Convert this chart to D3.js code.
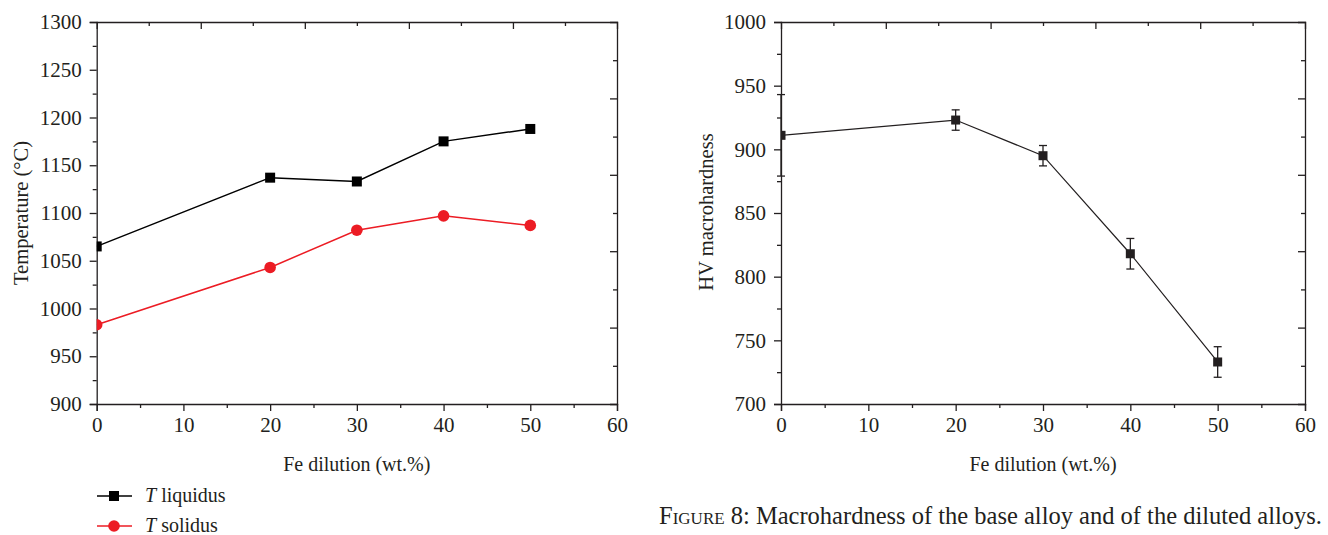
<!DOCTYPE html>
<html>
<head>
<meta charset="utf-8">
<script src="https://cdn.jsdelivr.net/npm/d3@7"></script>
<style>
  body { margin: 0; background: #fff; }
  text { font-family: "Liberation Serif", "Times New Roman", serif; fill: #231f20; }
</style>
</head>
<body>
<svg id="fig" width="1328" height="535"></svg>
<script>
// data
const dilution = [0, 20, 30, 40, 50];
const tLiquidus = [1065, 1137, 1133, 1175, 1188];
const tSolidus = [983, 1043, 1082, 1097, 1087];
const hardness = [911, 923, 895, 818, 733];
const hardnessErr = [32, 8, 8, 12, 12];

const xTicks = [0, 10, 20, 30, 40, 50, 60];
const tempTicks = [900, 950, 1000, 1050, 1100, 1150, 1200, 1250, 1300];
const hvTicks = [700, 750, 800, 850, 900, 950, 1000];

const ink = "#231f20";
const red = "#ec1c24";
const tickFont = "21px";

const svg = d3.select("#fig");

// draws the frame (origin style: outward ticks left/bottom, inward mirrored ticks top/right)
function frame(g, x, y, ticksY, id) {
  const [x0, x1] = x.range();
  const [y0, y1] = y.range();
  const xd = x.domain(), yd = y.domain();

  g.append("clipPath").attr("id", id)
    .append("rect").attr("x", x0).attr("y", y1).attr("width", x1 - x0).attr("height", y0 - y1);

  // bottom
  g.append("g").attr("transform", `translate(0,${y0})`)
    .call(d3.axisBottom(x).tickValues(xTicks).tickSizeOuter(0).tickSize(7).tickPadding(6).tickFormat(d3.format("d")))
    .call(a => a.selectAll("text").style("font-size", tickFont));
  g.append("g").attr("transform", `translate(0,${y0})`)
    .call(d3.axisBottom(x).tickValues(xTicks.slice(0, -1).map(d => d + 5)).tickSizeOuter(0).tickSize(4).tickFormat(""))
    .call(a => a.select(".domain").remove());

  // left
  const half = (ticksY[1] - ticksY[0]) / 2;
  g.append("g").attr("transform", `translate(${x0},0)`)
    .call(d3.axisLeft(y).tickValues(ticksY).tickSizeOuter(0).tickSize(7).tickPadding(8).tickFormat(d3.format("d")))
    .call(a => a.selectAll("text").style("font-size", tickFont));
  g.append("g").attr("transform", `translate(${x0},0)`)
    .call(d3.axisLeft(y).tickValues(ticksY.slice(0, -1).map(d => d + half)).tickSizeOuter(0).tickSize(4).tickFormat(""))
    .call(a => a.select(".domain").remove());

  // top: 10 divisions, alternating long/short
  const topVals = d3.range(1, 10).map(i => xd[0] + i * (xd[1] - xd[0]) / 10);
  g.append("g").attr("transform", `translate(0,${y1})`)
    .call(d3.axisTop(x).tickValues(topVals.filter((d, i) => i % 2 === 1)).tickSizeOuter(0).tickSize(-7).tickFormat(""));
  g.append("g").attr("transform", `translate(0,${y1})`)
    .call(d3.axisTop(x).tickValues(topVals.filter((d, i) => i % 2 === 0)).tickSizeOuter(0).tickSize(-4).tickFormat(""))
    .call(a => a.select(".domain").remove());

  // right: 10 divisions
  const rightVals = d3.range(1, 10).map(i => yd[0] + i * (yd[1] - yd[0]) / 10);
  g.append("g").attr("transform", `translate(${x1},0)`)
    .call(d3.axisRight(y).tickValues(rightVals.filter((d, i) => i % 2 === 1)).tickSizeOuter(0).tickSize(-7).tickFormat(""));
  g.append("g").attr("transform", `translate(${x1},0)`)
    .call(d3.axisRight(y).tickValues(rightVals.filter((d, i) => i % 2 === 0)).tickSizeOuter(0).tickSize(-4).tickFormat(""))
    .call(a => a.select(".domain").remove());

  g.selectAll(".domain, .tick line").attr("stroke", ink).attr("stroke-width", 1.3);
  g.selectAll(".tick text").attr("fill", ink);

  g.append("text")
    .attr("x", (x0 + x1) / 2).attr("y", y0 + 67)
    .attr("text-anchor", "middle").style("font-size", "20px")
    .text("Fe dilution (wt.%)");
}

// ---------- left chart: temperatures ----------
const xTemp = d3.scaleLinear().domain([0, 60]).range([96.7, 617]);
const yTemp = d3.scaleLinear().domain([900, 1300]).range([404, 22]);
const gL = svg.append("g");
frame(gL, xTemp, yTemp, tempTicks, "clipL");

gL.append("text")
  .attr("transform", `translate(28,213) rotate(-90)`)
  .attr("text-anchor", "middle").style("font-size", "20.5px")
  .text("Temperature (°C)");

const series = [
  { name: "liquidus", values: tLiquidus, color: "#000", shape: "square" },
  { name: "solidus", values: tSolidus, color: red, shape: "circle" }
];

const lineTemp = d3.line().x((d, i) => xTemp(dilution[i])).y(d => yTemp(d));
const plotL = gL.append("g").attr("clip-path", "url(#clipL)");

series.forEach(s => {
  plotL.append("path").datum(s.values)
    .attr("d", lineTemp).attr("fill", "none").attr("stroke", s.color).attr("stroke-width", 1.5);
  if (s.shape === "square") {
    plotL.selectAll(null).data(s.values).enter().append("rect")
      .attr("x", (d, i) => xTemp(dilution[i]) - 5).attr("y", d => yTemp(d) - 5)
      .attr("width", 10).attr("height", 10).attr("fill", s.color);
  } else {
    plotL.selectAll(null).data(s.values).enter().append("circle")
      .attr("cx", (d, i) => xTemp(dilution[i])).attr("cy", d => yTemp(d))
      .attr("r", 5.8).attr("fill", s.color);
  }
});

// legend
const legend = gL.append("g");
series.forEach((s, i) => {
  const ly = 496 + i * 30;
  legend.append("line").attr("x1", 97).attr("x2", 132).attr("y1", ly).attr("y2", ly)
    .attr("stroke", s.color).attr("stroke-width", 1.5);
  if (s.shape === "square") {
    legend.append("rect").attr("x", 109).attr("y", ly - 5).attr("width", 10).attr("height", 10).attr("fill", s.color);
  } else {
    legend.append("circle").attr("cx", 114).attr("cy", ly).attr("r", 5.8).attr("fill", s.color);
  }
  const t = legend.append("text").attr("x", 145).attr("y", ly + 6).style("font-size", "20px");
  t.append("tspan").style("font-style", "italic").text("T");
  t.append("tspan").text(" " + s.name);
});

// ---------- right chart: hardness ----------
const xHv = d3.scaleLinear().domain([0, 60]).range([781, 1305]);
const yHv = d3.scaleLinear().domain([700, 1000]).range([404, 22]);
const gR = svg.append("g");
frame(gR, xHv, yHv, hvTicks, "clipR");

gR.append("text")
  .attr("transform", `translate(713,212) rotate(-90)`)
  .attr("text-anchor", "middle").style("font-size", "20.5px")
  .text("HV macrohardness");

// error bars (not clipped)
const eb = gR.append("g").attr("stroke", ink).attr("stroke-width", 1.3);
hardness.forEach((v, i) => {
  const cx = xHv(dilution[i]);
  const top = yHv(v + hardnessErr[i]), bot = yHv(v - hardnessErr[i]);
  eb.append("line").attr("x1", cx).attr("x2", cx).attr("y1", top).attr("y2", bot);
  eb.append("line").attr("x1", cx - 4).attr("x2", cx + 4).attr("y1", top).attr("y2", top);
  eb.append("line").attr("x1", cx - 4).attr("x2", cx + 4).attr("y1", bot).attr("y2", bot);
});

const plotR = gR.append("g").attr("clip-path", "url(#clipR)");
plotR.append("path").datum(hardness)
  .attr("d", d3.line().x((d, i) => xHv(dilution[i])).y(d => yHv(d)))
  .attr("fill", "none").attr("stroke", ink).attr("stroke-width", 1.2);
plotR.selectAll(null).data(hardness).enter().append("rect")
  .attr("x", (d, i) => xHv(dilution[i]) - 4.5).attr("y", d => yHv(d) - 4.5)
  .attr("width", 9).attr("height", 9).attr("fill", ink);

// caption
const cap = svg.append("text").attr("x", 1322).attr("y", 524)
  .attr("text-anchor", "end").style("font-size", "24.5px");
cap.append("tspan").style("font-variant", "small-caps").text("Figure 8");
cap.append("tspan").text(": Macrohardness of the base alloy and of the diluted alloys.");
</script>
</body>
</html>
